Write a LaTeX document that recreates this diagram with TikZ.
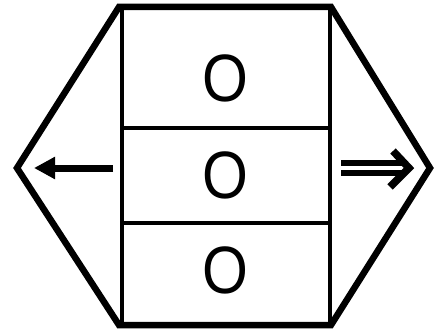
\documentclass[tikz,border=0pt]{standalone}
\usepackage{fontspec}
\setmainfont{Liberation Sans}
\usetikzlibrary{arrows.meta, positioning}

\begin{document}
\begin{tikzpicture}[x=1pt, y=-1pt, line join=miter]
\useasboundingbox (0,0) rectangle (444,329);
% outer hexagon
\draw[line width=6.5pt] (17,168) -- (119,7) -- (331,7) -- (430,168) -- (331,325) -- (119,325) -- cycle;
% three stacked rows
\node[draw, line width=3.5pt, inner sep=0pt, outer sep=0pt, minimum width=208pt, minimum height=120pt, anchor=north west] (toprow) at (122,8) {};
\node[draw, line width=3.5pt, inner sep=0pt, outer sep=0pt, minimum width=208pt, minimum height=95pt, below=0pt of toprow] (midrow) {};
\node[draw, line width=3.5pt, inner sep=0pt, outer sep=0pt, minimum width=208pt, minimum height=102pt, below=0pt of midrow] (botrow) {};
\node[font=\fontsize{67}{67}\selectfont, inner sep=0pt] (otop) at (225,78) {\scalebox{0.88}[1]{O}};
\node[font=\fontsize{67}{67}\selectfont, inner sep=0pt] (omid) at (225,175) {\scalebox{0.88}[1]{O}};
\node[font=\fontsize{67}{67}\selectfont, inner sep=0pt] (obot) at (225,270) {\scalebox{0.88}[1]{O}};
% arrows
\coordinate (lstart) at (113,168);
\coordinate (ltip) at (34,168);
\coordinate (rstart) at (341,168);
\coordinate (rend) at (405,168);
\draw[line width=7pt, -{Triangle[length=21pt, width=21pt]}] (lstart) -- (ltip);
\draw[double, line width=6pt, double distance=4pt] (rstart) -- (rend);
\draw[line width=7.5pt] (393,151) -- (409,168) -- (390,187);
\end{tikzpicture}
\end{document}
